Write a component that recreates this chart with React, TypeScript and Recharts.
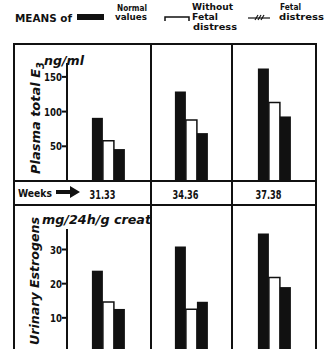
import { Bar, BarChart, XAxis, YAxis } from "recharts";

const weeks = ["31.33", "34.36", "37.38"];
const plasmaNormal = [91, 129, 162];
const plasmaNoDistress = [58, 88, 113];
const plasmaDistress = [46, 69, 93];
const urineNormal = [23.8, 30.9, 34.7];
const urineNoDistress = [14.6, 12.5, 21.8];
const urineDistress = [12.6, 14.7, 19];
const plasmaTicks = [50, 100, 150];
const urineTicks = [10, 20, 30];

const plasmaData = weeks.map((w, i) => ({
  week: w,
  normal: plasmaNormal[i],
  noDistress: plasmaNoDistress[i],
  distress: plasmaDistress[i],
}));
const urineData = weeks.map((w, i) => ({
  week: w,
  normal: urineNormal[i],
  noDistress: urineNoDistress[i],
  distress: urineDistress[i],
}));

const FONT = "'DejaVu Sans Condensed', 'Liberation Sans', sans-serif";
const INK = "#111";

// condensed bold tick text, squeezed to look like the old typeface
function YTick(props: any) {
  const { x, y, payload } = props;
  const s = String(payload.value);
  return (
    <text
      x={x}
      y={y}
      dy={4}
      textAnchor="end"
      fill={INK}
      fontSize={11}
      fontWeight={700}
      fontFamily={FONT}
      textLength={s.length * 6}
      lengthAdjust="spacingAndGlyphs"
    >
      {s}
    </text>
  );
}

function XTick(props: any) {
  const { x, y, payload } = props;
  return (
    <text
      x={x - 6}
      y={y}
      dy={10}
      textAnchor="middle"
      fill={INK}
      fontSize={12}
      fontWeight={700}
      fontFamily={FONT}
      textLength={26}
      lengthAdjust="spacingAndGlyphs"
    >
      {payload.value}
    </text>
  );
}

function Series() {
  return [
    <Bar key="n" dataKey="normal" fill={INK} isAnimationActive={false} />,
    <Bar key="w" dataKey="noDistress" fill="#fff" stroke={INK} strokeWidth={1.5} isAnimationActive={false} />,
    <Bar key="d" dataKey="distress" fill={INK} isAnimationActive={false} />,
  ];
}

const sq = { lengthAdjust: "spacingAndGlyphs" as const };

export default function App() {
  return (
    <div
      style={{
        position: "absolute",
        left: 0,
        top: 0,
        width: 326,
        height: 349,
        overflow: "hidden",
        background: "#fff",
        fontFamily: FONT,
      }}
    >
      <div style={{ position: "absolute", left: 0, top: 44 }}>
        <BarChart
          width={326}
          height={161}
          data={plasmaData}
          margin={{ top: 19, right: 10, bottom: 0, left: 0 }}
          barCategoryGap="30%"
          barGap={0}
        >
          <XAxis
            dataKey="week"
            height={24}
            tick={<XTick />}
            tickLine={false}
            axisLine={{ stroke: INK, strokeWidth: 2 }}
            tickMargin={2}
          />
          <YAxis
            width={67}
            domain={[0, 170]}
            ticks={plasmaTicks}
            tick={<YTick />}
            tickSize={5}
            tickMargin={0}
            tickLine={{ stroke: INK, strokeWidth: 2 }}
            axisLine={{ stroke: INK, strokeWidth: 2 }}
          />
          {Series()}
        </BarChart>
      </div>
      <div style={{ position: "absolute", left: 0, top: 205 }}>
        <BarChart
          width={326}
          height={147}
          data={urineData}
          margin={{ top: 24, right: 10, bottom: 0, left: 0 }}
          barCategoryGap="30%"
          barGap={0}
        >
          <XAxis dataKey="week" hide />
          <YAxis
            width={67}
            domain={[0, 36]}
            ticks={urineTicks}
            tick={<YTick />}
            tickSize={5}
            tickMargin={0}
            tickLine={{ stroke: INK, strokeWidth: 2 }}
            axisLine={{ stroke: INK, strokeWidth: 2 }}
          />
          {Series()}
        </BarChart>
      </div>
      <svg
        width={326}
        height={349}
        style={{ position: "absolute", left: 0, top: 0, pointerEvents: "none" }}
        fontFamily={FONT}
        fontWeight={700}
        fill={INK}
      >
        {/* frame */}
        <g stroke={INK} strokeWidth={2}>
          <line x1={14} y1={44} x2={317} y2={44} />
          <line x1={14} y1={43} x2={14} y2={349} />
          <line x1={316} y1={43} x2={316} y2={349} />
          <line x1={151} y1={43} x2={151} y2={349} />
          <line x1={232} y1={43} x2={232} y2={349} />
          <line x1={14} y1={181} x2={317} y2={181} />
          <line x1={14} y1={205} x2={317} y2={205} />
        </g>

        {/* legend */}
        <text x={15} y={22} fontSize={10} textLength={57} {...sq}>MEANS of</text>
        <rect x={77} y={14} width={27} height={6} fill={INK} />
        <text x={117} y={11} fontSize={9} textLength={30} {...sq}>Normal</text>
        <text x={115} y={20} fontSize={9} textLength={32} {...sq}>values</text>
        <path d="M165 21 V17 H189 V21" fill="none" stroke={INK} strokeWidth={1.5} />
        <text x={192} y={10} fontSize={9} textLength={41} {...sq}>Without</text>
        <text x={192} y={20} fontSize={9} textLength={26} {...sq}>Fetal</text>
        <text x={193} y={30} fontSize={9} textLength={44} {...sq}>distress</text>
        <g stroke={INK} strokeWidth={1.2}>
          <line x1={248} y1={18} x2={270} y2={18} />
          <line x1={255} y1={20} x2={258} y2={15} />
          <line x1={258} y1={20} x2={261} y2={15} />
          <line x1={261} y1={20} x2={264} y2={15} />
        </g>
        <text x={280} y={10} fontSize={9} textLength={21} {...sq}>Fetal</text>
        <text x={279} y={20} fontSize={9} textLength={45} {...sq}>distress</text>

        {/* units and axis titles */}
        <text x={44} y={65} fontSize={12} fontStyle="italic" textLength={40} {...sq}>ng/ml</text>
        <text
          transform="translate(40 118) rotate(-90)"
          textAnchor="middle"
          fontSize={13}
          fontStyle="italic"
          textLength={112}
          {...sq}
        >
          Plasma total E<tspan fontSize={10} dy={4}>3</tspan>
        </text>
        <text x={42} y={224} fontSize={12} fontStyle="italic" textLength={109} {...sq}>mg/24h/g creat</text>
        <text
          transform="translate(39 281) rotate(-90)"
          textAnchor="middle"
          fontSize={13}
          fontStyle="italic"
          textLength={128}
          {...sq}
        >
          Urinary Estrogens
        </text>

        {/* weeks row */}
        <text x={18} y={197} fontSize={11} textLength={34} {...sq}>Weeks</text>
        <path d="M56 190 H70 V186 L80 192 L70 198 V194 H56 Z" fill={INK} />
      </svg>
    </div>
  );
}
